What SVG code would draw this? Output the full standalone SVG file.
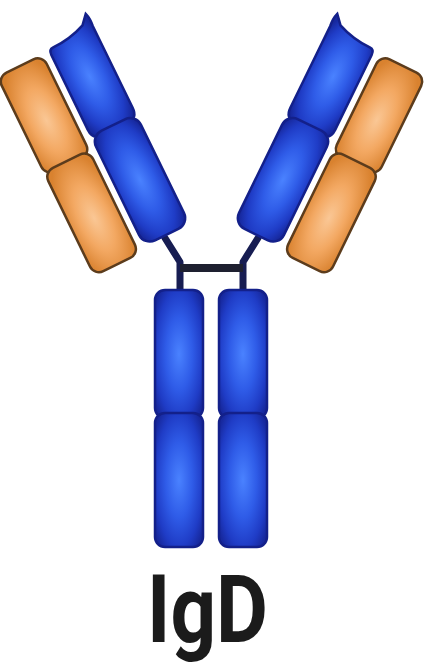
<svg xmlns="http://www.w3.org/2000/svg" xmlns:xlink="http://www.w3.org/1999/xlink" width="440" height="666" viewBox="0 0 440 666">
  <defs>
    <!-- heavy chain domains: blue, bright core fading to deep edges -->
    <radialGradient id="blueFill" cx="50%" cy="50%" r="62%">
      <stop offset="0" stop-color="#4a82ff"/>
      <stop offset="0.45" stop-color="#2f5ce8"/>
      <stop offset="0.8" stop-color="#1f3cc6"/>
      <stop offset="1" stop-color="#17299f"/>
    </radialGradient>
    <!-- light chain domains: orange -->
    <radialGradient id="orangeFill" cx="50%" cy="55%" r="62%">
      <stop offset="0" stop-color="#fac795"/>
      <stop offset="0.5" stop-color="#f3a862"/>
      <stop offset="1" stop-color="#d9822f"/>
    </radialGradient>
    <style>
      .hd { fill: url(#blueFill); stroke: #13208a; stroke-width: 2.5; }
      .ld { fill: url(#orangeFill); stroke: #5c3c1c; stroke-width: 2.5; }
      .hinge { fill: none; stroke: #171d52; stroke-width: 7; stroke-linecap: round; stroke-linejoin: round; }
      .bond { fill: none; stroke: #1e2030; stroke-width: 8; }
      .label { font-family: Roboto, "Liberation Sans", Arial, sans-serif; font-weight: 700; font-size: 94px; fill: #1b1b1b; }
    </style>

    <!-- one Fab arm drawn upright, then tilted into place -->
    <g id="fabArm">
      <g id="lightChain">
        <rect class="ld" x="-36" y="68" width="50" height="110" rx="10"/>
        <rect class="ld" x="-36" y="174" width="50" height="115" rx="10"/>
      </g>
      <g id="heavyChainFab">
        <path class="hd" d="M22,155 L22,72 Q22,66 27,66 Q46,66 63,59 L71,50 Q73,56 72,64 L72,155 Q72,166 62,166 L32,166 Q22,166 22,155 Z"/>
        <rect class="hd" x="22" y="162" width="50" height="122" rx="12"/>
      </g>
    </g>
  </defs>

  <rect width="440" height="666" fill="#ffffff"/>

  <!-- hinge region and the inter-chain disulfide bond -->
  <g id="connectors">
    <path class="hinge" d="M165,238 L180,262 L180,294"/>
    <path class="hinge" d="M258,238 L243,262 L243,294"/>
    <path class="bond" d="M180,268 L243,268"/>
  </g>

  <g id="fab-left" transform="rotate(-26)">
    <use xlink:href="#fabArm" href="#fabArm"/>
  </g>

  <g id="fab-right" transform="translate(423,0) scale(-1,1) rotate(-26)">
    <use xlink:href="#fabArm" href="#fabArm"/>
  </g>

  <g id="fc-left">
    <rect class="hd" x="155" y="290" width="48" height="128" rx="10"/>
    <rect class="hd" x="155" y="413" width="48" height="134" rx="10"/>
  </g>

  <g id="fc-right">
    <rect class="hd" x="219" y="290" width="48" height="128" rx="10"/>
    <rect class="hd" x="219" y="413" width="48" height="134" rx="10"/>
  </g>

  <g id="title">
    <text class="label" x="147" y="642" textLength="121" lengthAdjust="spacingAndGlyphs">IgD</text>
  </g>
</svg>
